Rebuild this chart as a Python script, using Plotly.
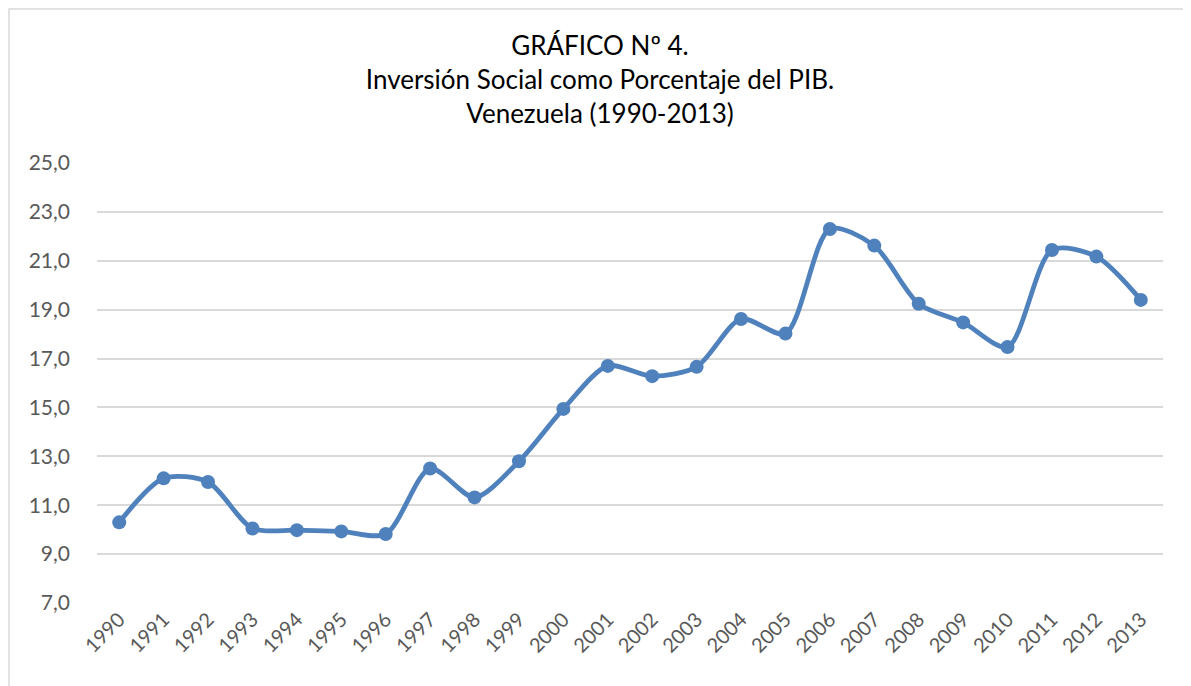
import plotly.graph_objects as go

years = [str(y) for y in range(1990, 2014)]
values = [10.3, 12.1, 11.95, 10.05, 9.98, 9.93, 9.82, 12.5, 11.32, 12.8,
          14.94, 16.7, 16.28, 16.66, 18.62, 18.02, 22.3, 21.62, 19.24, 18.48,
          17.47, 21.44, 21.17, 19.4]
y_ticks = [7, 9, 11, 13, 15, 17, 19, 21, 23, 25]
y_labels = [f"{v:.1f}".replace(".", ",") for v in y_ticks]

W, H = 1191, 686
OFF = 8  # page body margin
L, R, T, B = 97 - OFF, 28 + OFF, 163 - OFF, 83 + OFF
pw, ph = W - L - R, H - T - B

fig = go.Figure()
fig.add_trace(go.Scatter(
    x=years, y=values, mode="lines+markers",
    line=dict(color="#4F81BD", width=4.8, shape="spline", smoothing=0.8),
    marker=dict(color="#4F81BD", size=14),
    hoverinfo="x+y", showlegend=False,
))

fig.update_layout(
    width=W, height=H,
    margin=dict(l=L, r=R, t=T, b=B),
    paper_bgcolor="white", plot_bgcolor="white",
    font=dict(family="Lato, 'Open Sans', sans-serif", color="#595959"),
    title=dict(
        text="GRÁFICO Nº 4.<br>Inversión Social como Porcentaje del PIB.<br>Venezuela (1990-2013)",
        x=(600 - OFF) / W, xanchor="center", y=1 - 47 / H, yanchor="top",
        font=dict(size=26, color="#000000", family="Lato, 'Open Sans', sans-serif"),
    ),
    xaxis=dict(
        type="category", tickangle=-45, showgrid=False, zeroline=False,
        showline=False, ticks="", tickfont=dict(size=20, color="#595959"),
        range=[-0.5, len(years) - 0.5],
    ),
    yaxis=dict(
        range=[7, 25], tickvals=y_ticks, ticktext=y_labels,
        showgrid=True, gridcolor="#D9D9D9", gridwidth=1.5, zeroline=False,
        showline=False, ticks="", ticklabelstandoff=26,
        tickfont=dict(size=21, color="#595959"),
    ),
)

# outer chart border (cropped at right and bottom in the reference)
fig.add_shape(
    type="rect", xref="paper", yref="paper",
    x0=(1 - L) / pw, x1=(W + 5 - L) / pw,
    y0=(H - B - (H + 5)) / ph, y1=(H - B - 1) / ph,
    line=dict(color="#D9D9D9", width=1.5), fillcolor="rgba(0,0,0,0)",
    layer="below",
)

fig.write_html("out.html")
